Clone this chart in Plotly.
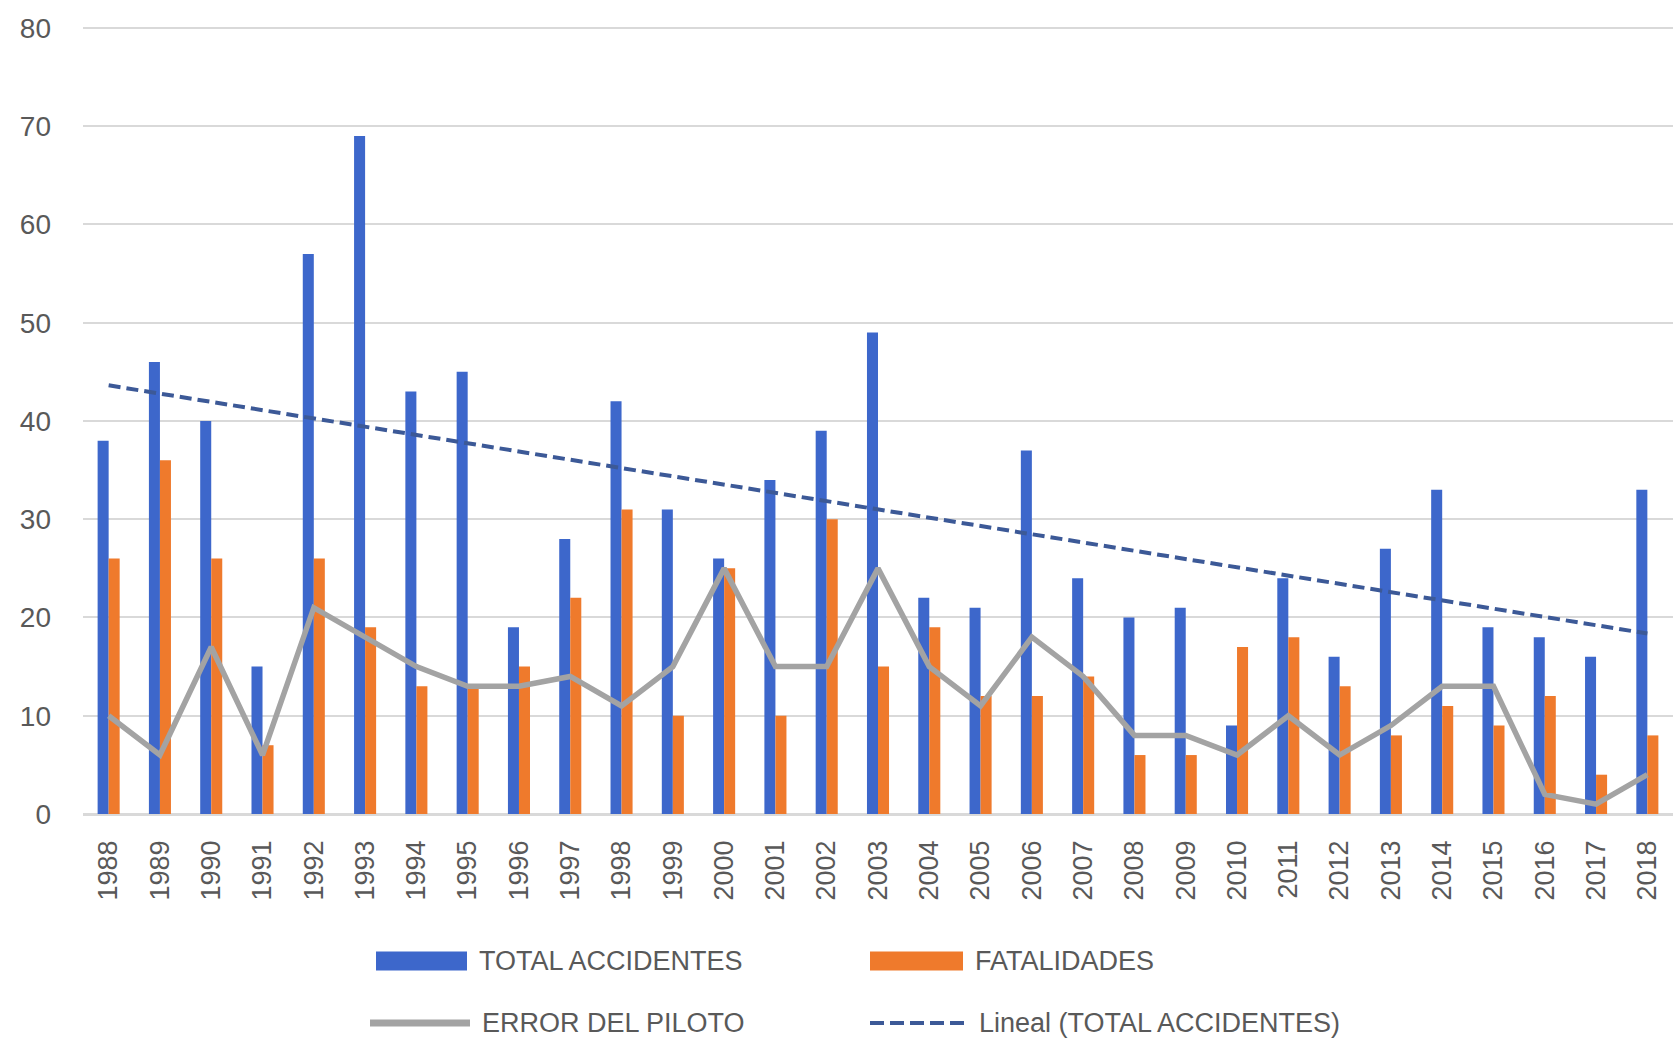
import numpy as np
import plotly.graph_objects as go

years = [str(y) for y in range(1988, 2019)]
total_accidentes = [38, 46, 40, 15, 57, 69, 43, 45, 19, 28, 42, 31, 26, 34, 39, 49,
                    22, 21, 37, 24, 20, 21, 9, 24, 16, 27, 33, 19, 18, 16, 33]
fatalidades = [26, 36, 26, 7, 26, 19, 13, 13, 15, 22, 31, 10, 25, 10, 30, 15,
               19, 12, 12, 14, 6, 6, 17, 18, 13, 8, 11, 9, 12, 4, 8]
error_piloto = [10, 6, 17, 6, 21, 18, 15, 13, 13, 14, 11, 15, 25, 15, 15, 25,
                15, 11, 18, 14, 8, 8, 6, 10, 6, 9, 13, 13, 2, 1, 4]
y_ticks = [0, 10, 20, 30, 40, 50, 60, 70, 80]

# linear trend of TOTAL ACCIDENTES (least squares, like Excel "Lineal")
idx = np.arange(len(years))
slope, intercept = np.polyfit(idx, total_accidentes, 1)
trend = (slope * idx + intercept).tolist()

BLUE = "#3d67cb"
ORANGE = "#ef7a2c"
GRAY = "#a3a3a3"
TREND = "#3c5997"
TXT = "#595959"

W, H = 1674, 1040
ML, MR, MT, MB = 83, 1, 26, 226

fig = go.Figure()
fig.add_trace(go.Bar(x=years, y=total_accidentes, name="TOTAL ACCIDENTES",
                     marker=dict(color=BLUE, line=dict(width=0)), showlegend=False))
fig.add_trace(go.Bar(x=years, y=fatalidades, name="FATALIDADES",
                     marker=dict(color=ORANGE, line=dict(width=0)), showlegend=False))
fig.add_trace(go.Scatter(x=years, y=error_piloto, name="ERROR DEL PILOTO", mode="lines",
                         line=dict(color=GRAY, width=5.5), showlegend=False))
fig.add_trace(go.Scatter(x=years, y=trend, name="Lineal (TOTAL ACCIDENTES)", mode="lines",
                         line=dict(color=TREND, width=4, dash="12px,6px"), showlegend=False))

# manual legend (pixel positions converted to paper coordinates)
pw, ph = W - ML - MR, H - MT - MB
def px(x):
    return (x - ML) / pw
def py(y):
    return (H - MB - y) / ph

legend_items = [
    ("TOTAL ACCIDENTES", "bar", BLUE, 376, 467, 961),
    ("FATALIDADES", "bar", ORANGE, 870, 963, 961),
    ("ERROR DEL PILOTO", "line", GRAY, 370, 470, 1023),
    ("Lineal (TOTAL ACCIDENTES)", "dash", TREND, 870, 967, 1023),
]
shapes = []
annotations = []
for label, kind, color, x0, x1, yc in legend_items:
    if kind == "bar":
        shapes.append(dict(type="rect", xref="paper", yref="paper",
                           x0=px(x0), x1=px(x1), y0=py(yc + 9.5), y1=py(yc - 9.5),
                           fillcolor=color, line=dict(width=0)))
    elif kind == "line":
        shapes.append(dict(type="line", xref="paper", yref="paper",
                           x0=px(x0), x1=px(x1), y0=py(yc), y1=py(yc),
                           line=dict(color=color, width=7)))
    else:
        shapes.append(dict(type="line", xref="paper", yref="paper",
                           x0=px(x0), x1=px(x1), y0=py(yc), y1=py(yc),
                           line=dict(color=color, width=4, dash="14px,6px")))
    annotations.append(dict(text=label, xref="paper", yref="paper",
                            x=px(x1 + 10), y=py(yc), xanchor="left", yanchor="middle",
                            showarrow=False,
                            font=dict(family="Liberation Sans, Arial, sans-serif",
                                      size=27, color=TXT)))

fig.update_layout(
    width=W, height=H,
    margin=dict(l=ML, r=MR, t=MT, b=MB, pad=0),
    paper_bgcolor="white", plot_bgcolor="white",
    barmode="group", bargap=0.57, bargroupgap=0,
    shapes=shapes, annotations=annotations,
    font=dict(family="Liberation Sans, Arial, sans-serif", color=TXT),
)
fig.update_xaxes(type="category", showgrid=False, showline=True, linecolor="#d9d9d9",
                 linewidth=1.5, ticks="", tickangle=-90, ticklabelstandoff=14,
                 tickfont=dict(size=27, color=TXT))
fig.update_yaxes(range=[0, 80.2], tickvals=y_ticks, showgrid=True, gridcolor="#d9d9d9",
                 gridwidth=1.5, zeroline=True, zerolinecolor="#d9d9d9", zerolinewidth=1.5,
                 ticks="", ticklabelstandoff=31, tickfont=dict(size=28, color=TXT))

fig.write_html("out.html", config={"displayModeBar": False},
               post_script="document.body.style.margin='0';document.body.style.overflow='hidden';")
